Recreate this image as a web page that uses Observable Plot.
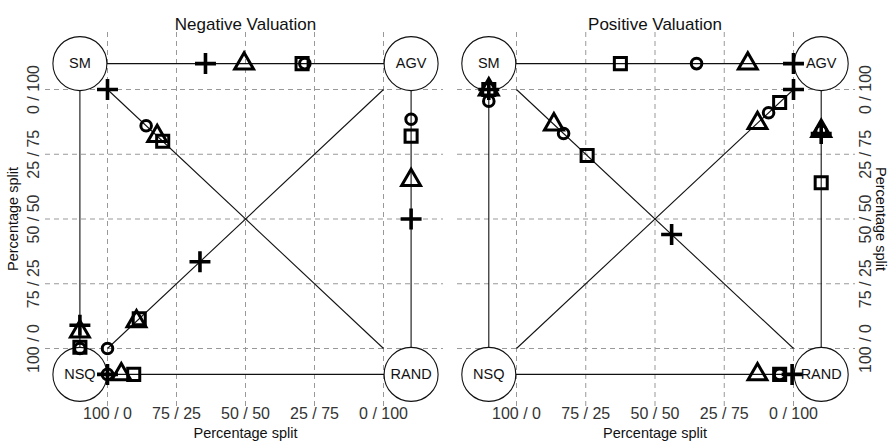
<!DOCTYPE html>
<html>
<head>
<meta charset="utf-8">
<script src="https://cdn.jsdelivr.net/npm/d3@7"></script>
<script src="https://cdn.jsdelivr.net/npm/@observablehq/plot@0.6"></script>
<style>
  html, body { margin: 0; padding: 0; background: #fff; }
  #wrap { display: flex; width: 890px; height: 447px; }
</style>
</head>
<body>
<div id="wrap"></div>
<script>
// ---- data ----
const panelTitles = ["Negative Valuation", "Positive Valuation"];
const tickValues = [0, 25, 50, 75, 100];
const tickLabels = ["100 / 0", "75 / 25", "50 / 50", "25 / 75", "0 / 100"];
const axisTitle = "Percentage split";

const nodeNames = ["SM", "AGV", "NSQ", "RAND"];
const nodeX = [-10, 110, -10, 110];
const nodeY = [110, 110, -10, -10];

const linkNames = ["SM-AGV", "AGV-RAND", "SM-NSQ", "NSQ-RAND", "SM-RAND", "NSQ-AGV"];
const linkX1 = [-10, 110, -10, -10, 0, 0];
const linkY1 = [110, 110, 110, -10, 100, 0];
const linkX2 = [110, 110, -10, 110, 100, 100];
const linkY2 = [110, -10, -10, -10, 0, 100];

// marker values along each link (same order as linkNames)
const negCircle   = [71.5, 88.5, 0,   0,   14,  0];
const negSquare   = [70.5, 82,   0.5, 9.5, 20,  11.5];
const negTriangle = [49.5, 65,   6.5, 5,   18,  10.5];
const negPlus     = [35.5, 50,   9,   0,   0,   33.5];

const posCircle   = [65,   84,   95.5, 95,   17,   91];
const posSquare   = [37.5, 64,   100,  95,   25.5, 95];
const posTriangle = [83.5, 84,   100,  87,   13.5, 87];
const posPlus     = [100,  83,   100,  99.5, 56,   100];

// ---- helpers ----
function place(link, v) {
  switch (link) {
    case "SM-AGV": return [v, 110];
    case "AGV-RAND": return [110, v];
    case "SM-NSQ": return [-10, v];
    case "NSQ-RAND": return [v, -10];
    case "SM-RAND": return [v, 100 - v];
    case "NSQ-AGV": return [v, v];
  }
}
function pts(values) {
  return values.map((v, i) => { const [x, y] = place(linkNames[i], v); return {x, y}; });
}
const nodes = nodeNames.map((n, i) => ({name: n, x: nodeX[i], y: nodeY[i]}));
const links = linkNames.map((n, i) => ({name: n, x1: linkX1[i], y1: linkY1[i], x2: linkX2[i], y2: linkY2[i]}));
const ticks = tickValues.map((v, i) => ({v, label: tickLabels[i]}));

const FONT = "'Liberation Sans', Arial, Helvetica, sans-serif";
const INK = "#111";

function panel(idx, series, side) {
  const left = side === "left";
  const off = left ? 0 : 445;
  const xr = left ? [107, 383] : [516 - off, 793 - off];
  const mk = (data, symbol, r, sw) => Plot.dot(pts(data), {
    x: "x", y: "y", symbol, r, fill: "none", stroke: "#000", strokeWidth: sw
  });
  const yTickText = Plot.text(ticks, {
    y: "v", text: "label", frameAnchor: left ? "left" : "right",
    dx: left ? -12 : 10, rotate: -90, textAnchor: "middle", fontSize: 16, fill: "#333"
  });
  const yTitle = Plot.text([axisTitle], {
    y: 50, frameAnchor: left ? "left" : "right",
    dx: left ? -32 : 25, rotate: left ? -90 : 90, textAnchor: "middle", fontSize: 14.5, fill: INK
  });
  return Plot.plot({
    width: 445, height: 447,
    marginLeft: left ? 45 : 12, marginRight: left ? 2 : 35,
    marginTop: 32, marginBottom: 40,
    style: {fontFamily: FONT, background: "#fff", color: INK, overflow: "visible"},
    x: {domain: [0, 100], range: xr, axis: null},
    y: {domain: [0, 100], range: [348, 89], axis: null},
    marks: [
      Plot.gridX(tickValues, {stroke: "#999", strokeOpacity: 1, strokeDasharray: "5,4", strokeWidth: 1}),
      Plot.gridY(tickValues, {stroke: "#999", strokeOpacity: 1, strokeDasharray: "5,4", strokeWidth: 1}),
      Plot.link(links, {x1: "x1", y1: "y1", x2: "x2", y2: "y2", stroke: INK, strokeWidth: 1.1}),
      Plot.dot(nodes, {x: "x", y: "y", r: 27, fill: "#fff", stroke: INK, strokeWidth: 1.1}),
      Plot.text(nodes, {x: "x", y: "y", text: "name", fontSize: 14.5, fill: INK}),
      mk(series[3], "plus", 6.8, 3.6),
      mk(series[2], "triangle", 7, 3),
      mk(series[1], "square", 6.8, 3),
      mk(series[0], "circle", 5.3, 3),
      Plot.text(ticks, {x: "v", text: "label", frameAnchor: "bottom", dy: 11, fontSize: 16, fill: "#333"}),
      Plot.text([axisTitle], {x: 50, frameAnchor: "bottom", dy: 30, fontSize: 14.5, fill: INK}),
      yTickText,
      yTitle,
      Plot.text([panelTitles[idx]], {x: 50, frameAnchor: "top", dy: -15, fontSize: 17, fill: INK})
    ]
  });
}

const wrap = document.getElementById("wrap");
wrap.append(panel(0, [negCircle, negSquare, negTriangle, negPlus], "left"));
wrap.append(panel(1, [posCircle, posSquare, posTriangle, posPlus], "right"));
</script>
</body>
</html>
